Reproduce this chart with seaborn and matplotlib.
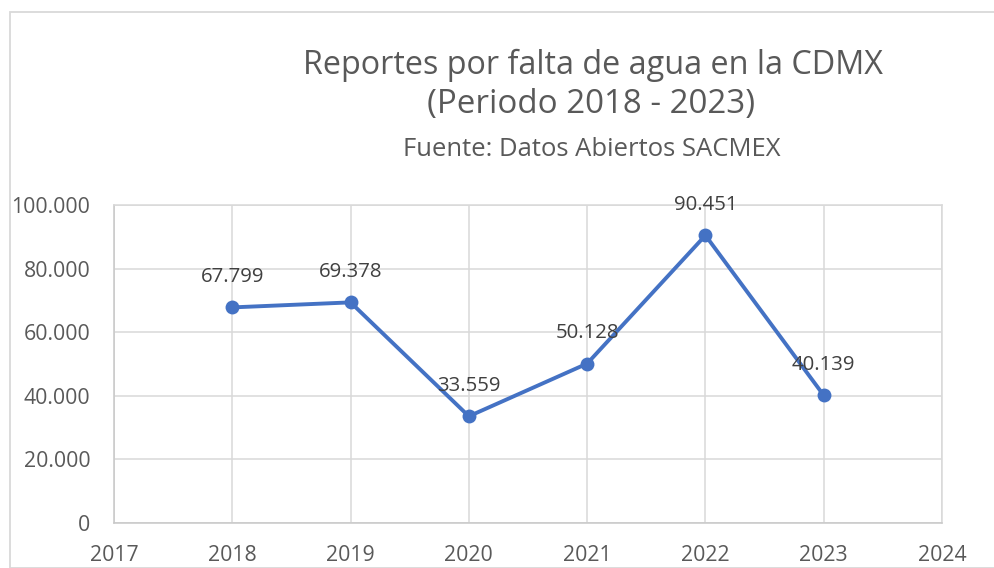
import matplotlib
matplotlib.use("Agg")
import matplotlib.pyplot as plt
import seaborn as sns
import pandas as pd
from matplotlib.patches import Rectangle
from matplotlib.ticker import FuncFormatter

years = [2018, 2019, 2020, 2021, 2022, 2023]
reportes = [67799, 69378, 33559, 50128, 90451, 40139]
x_ticks = [2017, 2018, 2019, 2020, 2021, 2022, 2023, 2024]
y_ticks = [0, 20000, 40000, 60000, 80000, 100000]
title_1 = "Reportes por falta de agua en la CDMX"
title_2 = "(Periodo 2018 - 2023)"
subtitle = "Fuente: Datos Abiertos SACMEX"

sns.set_theme(style="white")
plt.rcParams["font.family"] = ["Open Sans", "DejaVu Sans"]

W, H = 995, 568
fig = plt.figure(figsize=(W / 100, H / 100), dpi=100)
ax = fig.add_axes([114 / W, 1 - 523 / H, (942 - 114) / W, (523 - 205) / H])

df = pd.DataFrame({"year": years, "reportes": reportes})
sns.lineplot(data=df, x="year", y="reportes", ax=ax, color="#4472C4",
             linewidth=2.8, marker="o", markersize=10, markeredgewidth=0,
             zorder=3)

def fmt(v):
    return f"{int(round(v)):,}".replace(",", ".")

ax.set_xlim(2017, 2024)
ax.set_ylim(0, 100000)
ax.set_xticks(x_ticks)
ax.set_yticks(y_ticks)
ax.yaxis.set_major_formatter(FuncFormatter(lambda v, p: fmt(v)))
ax.set_xlabel("")
ax.set_ylabel("")
ax.grid(True, color="#d9d9d9", linewidth=1.1)
ax.set_axisbelow(True)
for s in ax.spines.values():
    s.set_visible(True)
    s.set_color("#d9d9d9")
    s.set_linewidth(1.1)
ax.spines["left"].set_color("#c8c8c8")
ax.spines["bottom"].set_color("#c8c8c8")
ax.tick_params(axis="both", length=0, labelsize=15.3, labelcolor="#595959")
ax.tick_params(axis="y", pad=17)
ax.tick_params(axis="x", pad=16)

for xv, yv in zip(years, reportes):
    ax.annotate(fmt(yv), (xv, yv), xytext=(0, 22), textcoords="offset points",
                ha="center", va="center", fontsize=14.7, color="#404040",
                zorder=4)

# chart border
fig.patches.append(Rectangle((9.5 / W, 0), (W + 5) / W, 1 - 11.5 / H,
                             transform=fig.transFigure, fill=False,
                             edgecolor="#d9d9d9", linewidth=1.3))

renderer = fig.canvas.get_renderer()
def fitted(text, cx, cy, target_w, base, color):
    t = fig.text(cx / W, 1 - cy / H, text, ha="center", va="center",
                 fontsize=base, color=color)
    w = t.get_window_extent(renderer).width
    t.set_fontsize(base * target_w / w)
    return t

fitted(title_1, 593.5, 65, 581, 20, "#595959")
fitted(title_2, 591, 105, 328, 20, "#595959")
fitted(subtitle, 592, 150, 379, 14, "#595959")

fig.savefig("out.png", dpi=100)
